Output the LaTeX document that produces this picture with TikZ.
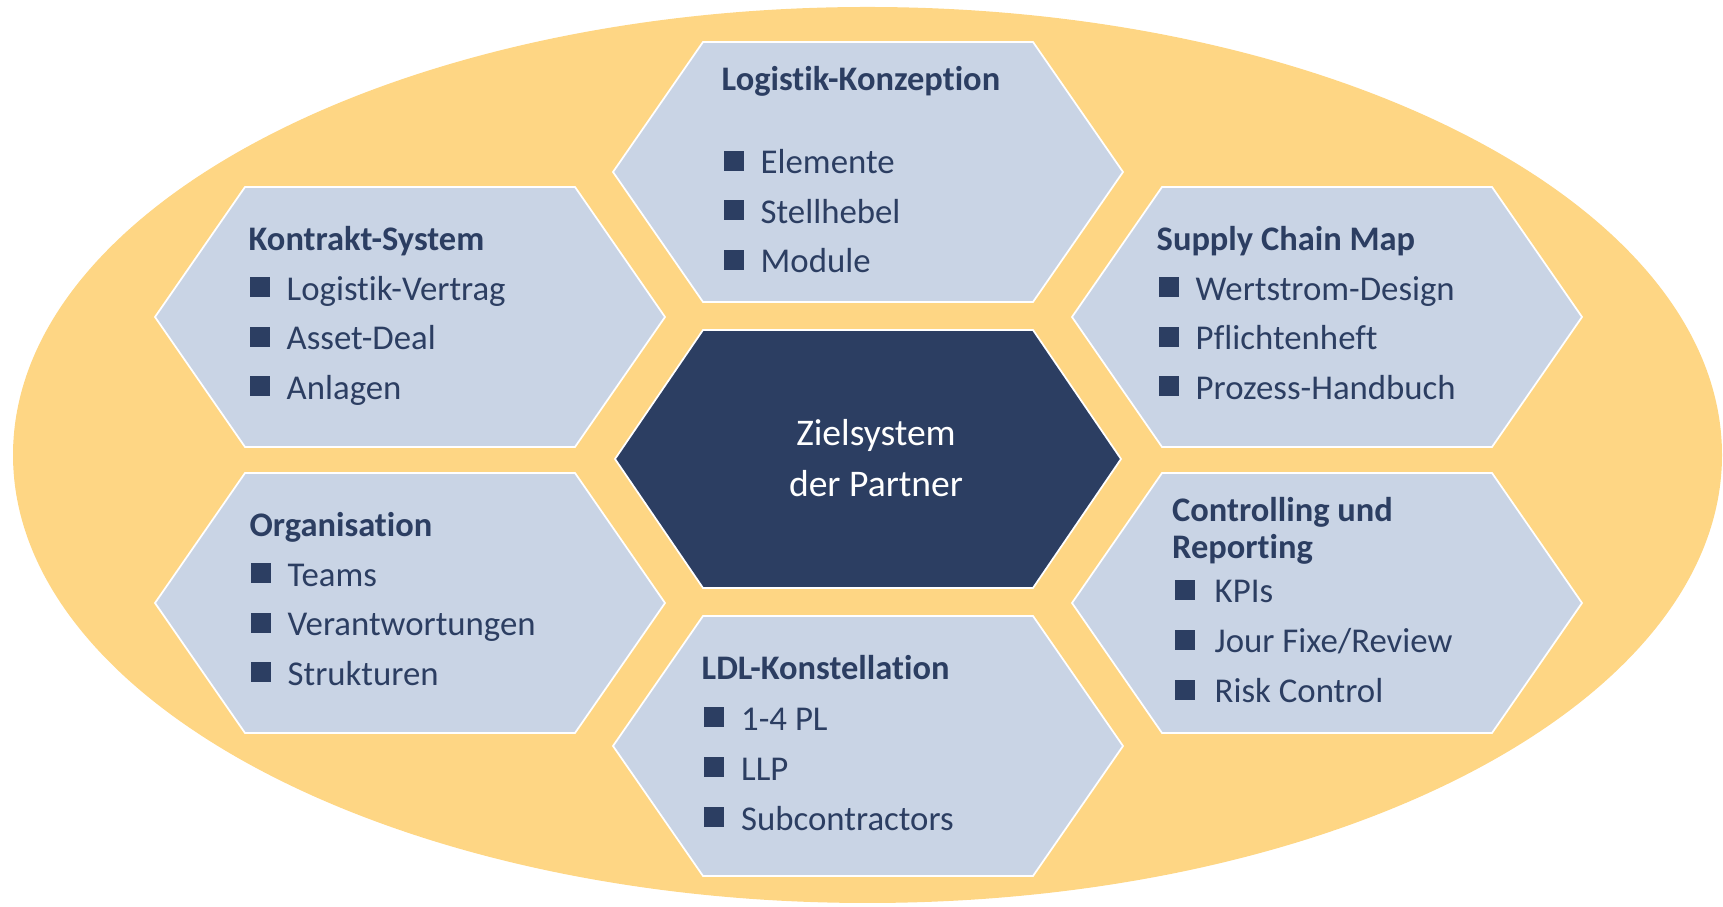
\documentclass[tikz,border=0pt]{standalone}
\usepackage{fontspec}
\setmainfont{Carlito}[Ligatures=NoCommon]
\usetikzlibrary{positioning,calc}
\definecolor{ovalfill}{RGB}{254,214,132}
\definecolor{cellfill}{RGB}{201,212,229}
\definecolor{navy}{RGB}{44,62,98}
\newcommand{\sqbullet}{\textcolor{navy}{\rule[0.03cm]{0.2cm}{0.2cm}}\hspace{0.17cm}}
\tikzset{
  oval/.style={fill=ovalfill,draw=none},
  cell/.style={fill=cellfill,draw=white,line width=0.5pt,line join=miter},
  corecell/.style={cell,fill=navy},
  celltitle/.style={anchor=base west,inner sep=0pt,text=navy,font=\fontsize{9.8}{11}\selectfont\bfseries},
  cellitem/.style={anchor=base west,inner sep=0pt,text=navy,font=\fontsize{9.9}{11}\selectfont},
  coretext/.style={anchor=base,inner sep=0pt,text=white,font=\fontsize{10.7}{12}\selectfont}
}

\begin{document}
\begin{tikzpicture}
  \useasboundingbox (0,0) rectangle (17.23,9.07);
  \fill[oval] (8.675,4.52) ellipse [x radius=8.545,y radius=4.48];
  % honeycomb centres
  \coordinate (ziel) at (8.68,4.48);
  \coordinate (logi) at ($(ziel)+(0,2.87)$);
  \coordinate (ldl) at ($(ziel)+(0,-2.87)$);
  \coordinate (kontrakt) at ($(ziel)+(-4.58,1.42)$);
  \coordinate (orga) at ($(ziel)+(-4.58,-1.44)$);
  \coordinate (supply) at ($(ziel)+(4.59,1.42)$);
  \coordinate (ctrl) at ($(ziel)+(4.59,-1.44)$);
  \foreach \c in {logi,ldl,kontrakt,orga,supply,ctrl}
    \draw[cell,shift={(\c)}] (-2.55,0) -- (-1.65,1.3) -- (1.65,1.3) -- (2.55,0) -- (1.65,-1.3) -- (-1.65,-1.3) -- cycle;
  \draw[corecell,shift={(ziel)}] (-2.53,0) -- (-1.65,1.29) -- (1.65,1.29) -- (2.53,0) -- (1.65,-1.29) -- (-1.65,-1.29) -- cycle;

  % centre
  \node[coretext] (ziel-1) at ($(ziel)+(0.08,0.13)$) {Zielsystem};
  \node[coretext] (ziel-2) at ($(ziel)+(0.08,-0.38)$) {der Partner};

  % top
  \node[celltitle] (logi-t) at ($(logi)+(-1.47,0.815)$) {Logistik-Konzeption};
  \foreach \txt [count=\i] in {Elemente,Stellhebel,Module}
    \node[cellitem] (logi-\i) at ($(logi)+(-1.45,0.475-0.495*\i)$) {\sqbullet\txt};

  % left
  \node[celltitle] (kontrakt-t) at ($(kontrakt)+(-1.62,0.66)$) {Kontrakt-System};
  \foreach \txt [count=\i] in {Logistik-Vertrag,Asset-Deal,Anlagen}
    \node[cellitem] (kontrakt-\i) at ($(kontrakt)+(-1.61,0.66-0.495*\i)$) {\sqbullet\txt};
  \node[celltitle] (orga-t) at ($(orga)+(-1.61,0.66)$) {Organisation};
  \foreach \txt [count=\i] in {Teams,Verantwortungen,Strukturen}
    \node[cellitem] (orga-\i) at ($(orga)+(-1.60,0.66-0.495*\i)$) {\sqbullet\txt};

  % right
  \node[celltitle] (supply-t) at ($(supply)+(-1.71,0.66)$) {Supply Chain Map};
  \foreach \txt [count=\i] in {Wertstrom-Design,Pflichtenheft,Prozess-Handbuch}
    \node[cellitem] (supply-\i) at ($(supply)+(-1.69,0.66-0.495*\i)$) {\sqbullet\txt};
  \node[celltitle] (ctrl-t) at ($(ctrl)+(-1.555,0.81)$) {Controlling und};
  \node[celltitle] (ctrl-t2) at ($(ctrl)+(-1.555,0.44)$) {Reporting};
  \foreach \txt [count=\i] in {KPIs,Jour Fixe/Review,Risk Control}
    \node[cellitem] (ctrl-\i) at ($(ctrl)+(-1.53,0.5-0.5*\i)$) {\sqbullet\hspace{0.03cm}\txt};

  % bottom
  \node[celltitle] (ldl-t) at ($(ldl)+(-1.67,0.66)$) {LDL-Konstellation};
  \foreach \txt [count=\i] in {1-4 PL,LLP,Subcontractors}
    \node[cellitem] (ldl-\i) at ($(ldl)+(-1.645,0.655-0.5*\i)$) {\sqbullet\txt};
\end{tikzpicture}
\end{document}
